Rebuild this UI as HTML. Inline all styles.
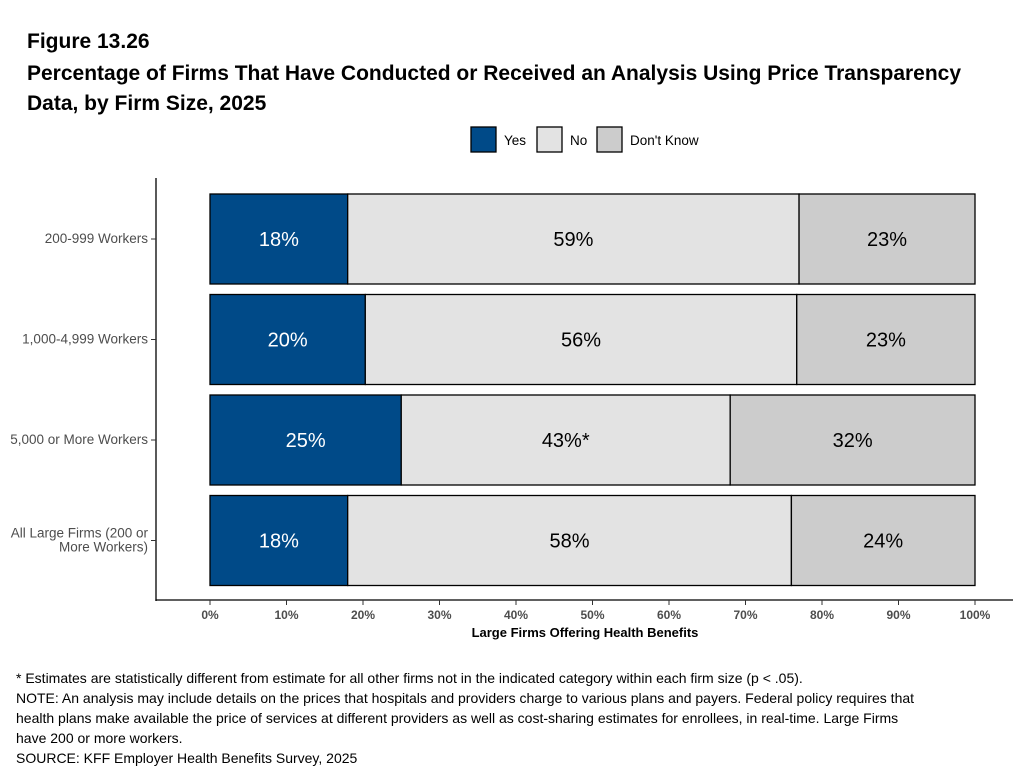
<!DOCTYPE html>
<html><head><meta charset="utf-8"><style>
body{margin:0;background:#fff;font-family:"Liberation Sans",Arial,sans-serif;}
#wrap{position:relative;width:1023px;height:770px;overflow:hidden;}
.t{position:absolute;left:27px;font-weight:bold;color:#000;font-size:21px;white-space:nowrap;}
.note{position:absolute;left:16px;font-size:14px;color:#000;line-height:20px;white-space:nowrap;}
</style></head><body>
<div id="wrap">
<div class="t" style="top:30px">Figure 13.26</div>
<div class="t" style="top:59px;line-height:30px">Percentage of Firms That Have Conducted or Received an Analysis Using Price Transparency<br>Data, by Firm Size, 2025</div>
<svg id="chart" width="1023" height="660" style="position:absolute;left:0;top:0"></svg>
<div class="note" style="top:668px">* Estimates are statistically different from estimate for all other firms not in the indicated category within each firm size (p &lt; .05).<br>NOTE: An analysis may include details on the prices that hospitals and providers charge to various plans and payers. Federal policy requires that<br>health plans make available the price of services at different providers as well as cost-sharing estimates for enrollees, in real-time. Large Firms<br>have 200 or more workers.<br>SOURCE: KFF Employer Health Benefits Survey, 2025</div>
</div>
<script>
const categories=["200-999 Workers","1,000-4,999 Workers","5,000 or More Workers","All Large Firms (200 or|More Workers)"];
const yesVals=[18,20.3,25,18];
const noVals=[59,56.4,43,58];
const dkVals=[23,23.3,32,24];
const yesLabels=["18%","20%","25%","18%"];
const noLabels=["59%","56%","43%*","58%"];
const dkLabels=["23%","23%","32%","24%"];
const xTicks=[0,10,20,30,40,50,60,70,80,90,100];
const seriesNames=["Yes","No","Don't Know"];
const colors=["#004a88","#e3e3e3","#cccccc"];
const NS="http://www.w3.org/2000/svg";
const svg=document.getElementById('chart');
function mk(tag,attrs,parent){const e=document.createElementNS(NS,tag);for(const k in attrs)e.setAttribute(k,attrs[k]);(parent||svg).appendChild(e);return e;}
const x=v=>210+v*7.65;
const y=i=>194+i*100.5;
const bh=90;
const ya=mk('line',{x1:156,y1:178,x2:156,y2:601,stroke:'#000','stroke-width':1.3});

const xa=mk('line',{x1:155.4,y1:600,x2:1013,y2:600,stroke:'#000','stroke-width':1.3});

xTicks.forEach(t=>{
  mk('line',{x1:x(t),y1:600,x2:x(t),y2:605,stroke:'#333','stroke-width':1});
  const tx=mk('text',{x:x(t),y:619,'text-anchor':'middle','font-size':12,'font-weight':'bold',fill:'#4d4d4d'});
  tx.textContent=t+'%';
  
  
});
const xt=mk('text',{x:585,y:637,'text-anchor':'middle','font-size':13,'font-weight':'bold',fill:'#000'});
xt.textContent='Large Firms Offering Health Benefits';

const vals=[yesVals,noVals,dkVals],labs=[yesLabels,noLabels,dkLabels];
categories.forEach((c,i)=>{
  const yc=y(i)+bh/2;
  mk('line',{x1:151,y1:yc,x2:156,y2:yc,stroke:'#333','stroke-width':1});
  const parts=c.split('|');
  const ct=mk('text',{x:148,y:parts.length>1?yc-3:yc+4,'text-anchor':'end','font-size':13.5,fill:'#4d4d4d'});
  
  parts.forEach((p,j)=>{const ts=mk('tspan',{x:148,dy:j?14:0},ct);ts.textContent=p;});
  let cum=0;
  for(let s=0;s<3;s++){
    const v=vals[s][i];
    const r=mk('rect',{x:x(cum),y:y(i),width:x(cum+v)-x(cum),height:bh,fill:colors[s],stroke:'#000','stroke-width':1.3});
    
    
    const lt=mk('text',{x:(x(cum)+x(cum+v))/2,y:yc+7,'text-anchor':'middle','font-size':20,fill:s==0?'#fff':'#000'});
    lt.textContent=labs[s][i];
    
    
    cum+=v;
  }
});
const lx=[471,537,597];
seriesNames.forEach((n,s)=>{
  const r=mk('rect',{x:lx[s],y:127,width:25,height:25,fill:colors[s],stroke:'#000','stroke-width':1.3});
  
  
  const t=mk('text',{x:lx[s]+33,y:145,'font-size':13.5,fill:'#000'});
  t.textContent=n;
  
  
});
</script>
</body></html>
